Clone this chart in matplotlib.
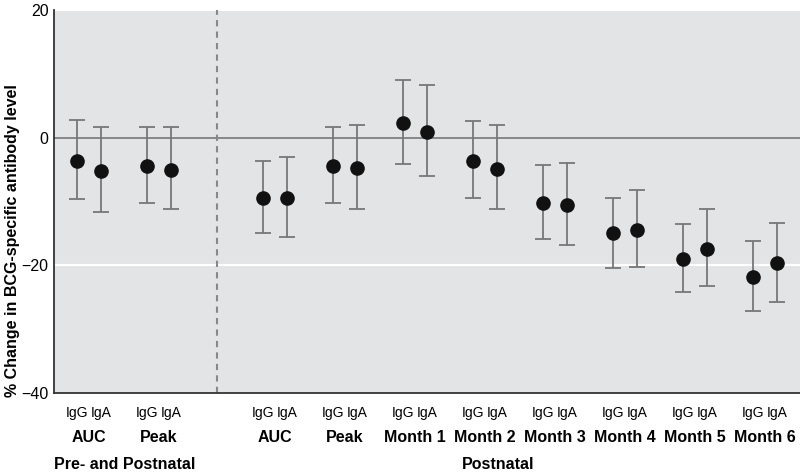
import matplotlib
matplotlib.use("Agg")
import matplotlib.pyplot as plt
import numpy as np

plt.rcParams["font.family"] = ["Liberation Sans", "DejaVu Sans"]

groups = ["AUC", "Peak", "AUC", "Peak", "Month 1", "Month 2", "Month 3",
          "Month 4", "Month 5", "Month 6"]
sections = ["Pre- and Postnatal", "Postnatal"]

igg = [-3.6, -4.4, -9.5, -4.5, 2.35, -3.6, -10.3, -15.0, -19.05, -21.8]
igg_hi = [2.7, 1.7, -3.6, 1.7, 9.1, 2.6, -4.3, -9.5, -13.5, -16.2]
igg_lo = [-9.65, -10.2, -15.0, -10.3, -4.1, -9.5, -15.9, -20.4, -24.2, -27.2]

iga = [-5.2, -5.0, -9.45, -4.75, 0.85, -4.85, -10.5, -14.5, -17.4, -19.7]
iga_hi = [1.6, 1.7, -3.0, 2.0, 8.3, 2.0, -4.0, -8.2, -11.2, -13.3]
iga_lo = [-11.7, -11.2, -15.6, -11.2, -6.05, -11.2, -16.8, -20.3, -23.3, -25.7]

# group centres: two pre/postnatal groups, then a gap, then postnatal ones
centres = np.array([0, 1] + [2.657 + k for k in range(8)])
off = 0.168

fig = plt.figure(figsize=(8, 4.76), dpi=100)
ax = fig.add_axes([0.0675, 0.1744, 0.9325, 0.8046])
ax.set_facecolor("#e3e4e6")

ax.axhline(20, color="white", lw=1.5, zorder=1)
ax.axhline(-20, color="white", lw=1.5, zorder=1)
ax.axhline(0, color="#777777", lw=1.2, zorder=1)
ax.axvline((centres[1] + centres[2]) / 2, color="#888888", lw=1.5,
           ls=(0, (3, 2.5)), zorder=1)

for vals, hi, lo, dx in [(igg, igg_hi, igg_lo, -off), (iga, iga_hi, iga_lo, off)]:
    vals = np.array(vals)
    err = [vals - np.array(lo), np.array(hi) - vals]
    ax.errorbar(centres + dx, vals, yerr=err, fmt="o", color="#111111",
                ms=9.5, ecolor="#777777", elinewidth=1.3, capsize=5.5,
                capthick=1.3, zorder=3)

ax.set_xlim(-0.5, 10.157)
ax.set_ylim(-40, 20)
ax.set_yticks([-40, -20, 0, 20])
ax.set_yticklabels(["\u221240", "\u221220", "0", "20"], fontsize=11.5)
ax.tick_params(axis="y", length=0, pad=4)
ax.set_xticks([])
for s in ["top", "right"]:
    ax.spines[s].set_visible(False)
ax.spines["left"].set_color("#333333")
ax.spines["bottom"].set_color("#333333")
ax.spines["left"].set_linewidth(1.3)
ax.spines["bottom"].set_linewidth(1.3)

ax.set_ylabel("% Change in BCG-specific antibody level", fontsize=11.5,
              fontweight="bold")
ax.yaxis.set_label_coords(-0.046, 0.397)

trans = ax.get_xaxis_transform()
for c, g in zip(centres, groups):
    ax.text(c - off, -0.052, "IgG", transform=trans, ha="center", va="center",
            fontsize=10)
    ax.text(c + off, -0.052, "IgA", transform=trans, ha="center", va="center",
            fontsize=10)
    ax.text(c, -0.1175, g, transform=trans, ha="center", va="center",
            fontsize=11.5, fontweight="bold")

ax.text(0.51, -0.188, sections[0], transform=trans, ha="center", va="center",
        fontsize=11.5, fontweight="bold")
ax.text(5.84, -0.188, sections[1], transform=trans, ha="center", va="center",
        fontsize=11.5, fontweight="bold")

fig.savefig("out.png", dpi=100)
